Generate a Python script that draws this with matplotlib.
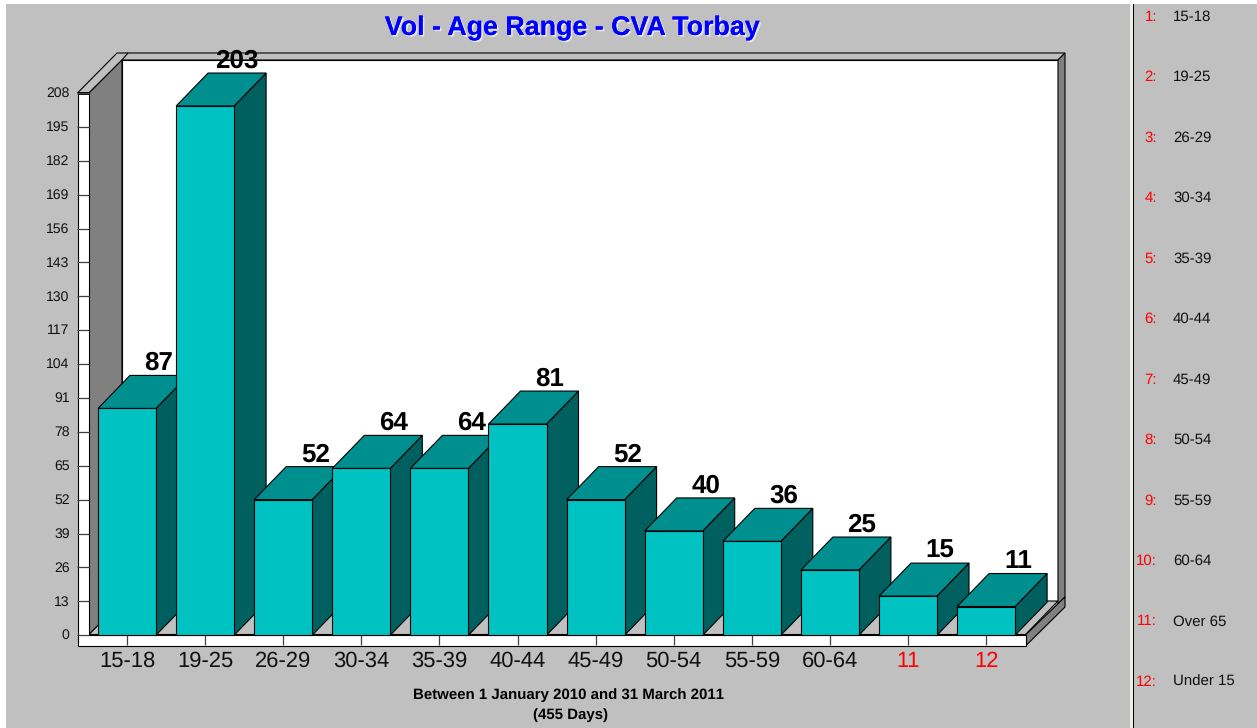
import matplotlib
matplotlib.use("Agg")
import matplotlib.pyplot as plt
from matplotlib.patches import Polygon, Rectangle
from matplotlib.transforms import ScaledTranslation
import matplotlib.patheffects as pe

plt.rcParams['font.family'] = ['Liberation Sans', 'DejaVu Sans']
plt.rcParams['text.hinting'] = 'no_hinting'
plt.rcParams['text.hinting_factor'] = 1

categories = ["15-18", "19-25", "26-29", "30-34", "35-39", "40-44", "45-49",
              "50-54", "55-59", "60-64", "Over 65", "Under 15"]
axis_labels = ["15-18", "19-25", "26-29", "30-34", "35-39", "40-44", "45-49",
               "50-54", "55-59", "60-64", "11", "12"]
values = [87, 203, 52, 64, 64, 81, 52, 40, 36, 25, 15, 11]
y_ticks = list(range(0, 209, 13))

TITLE = "Vol - Age Range - CVA Torbay"
FOOT1 = "Between 1 January 2010 and 31 March 2011"
FOOT2 = "(455 Days)"

W, H = 1257, 728
BG = "#C0C0C0"; WALL = "#808080"
FRONT = "#00C2C2"; TOP = "#008F8F"; SIDE = "#005F5F"
LW = 0.8

fig = plt.figure(figsize=(W / 100, H / 100), dpi=100, facecolor="white")

# pixel-space backdrop
bgax = fig.add_axes([0, 0, 1, 1], zorder=0)
bgax.set_xlim(0, W); bgax.set_ylim(H, 0); bgax.axis("off")

def poly(pts, fc, ec="black", lw=LW, z=2):
    bgax.add_patch(Polygon(pts, closed=True, fc=fc, ec=ec, lw=lw, zorder=z, joinstyle="miter"))

bgax.add_patch(Rectangle((6, 4), W - 6, H - 4, fc=BG, ec="none", zorder=1))
# divider
bgax.add_patch(Rectangle((1129.5, 4), 3, H - 4, fc="#EFEFE0", ec="none", zorder=1))
bgax.add_patch(Rectangle((1132.5, 4), 1.6, H - 4, fc="black", ec="none", zorder=1))

# frame: top bevel, walls, floor
poly([(77.5, 93), (117, 53), (1065, 53), (1058, 60), (122, 60), (89, 93)], BG)
poly([(122, 60), (128, 53)], BG)
poly([(122, 60), (1058, 60), (1058, 601), (122, 601)], "white")
poly([(89, 93), (122, 60), (122, 601), (89, 634.5)], WALL)
poly([(89, 634.5), (122, 601), (1058, 601), (1025.5, 634.5)], BG)
poly([(1058, 60), (1065, 53), (1065, 597), (1058, 604)], WALL)
poly([(1025.5, 635), (1065, 597), (1065, 607), (1025.5, 646)], WALL)
poly([(77.5, 93), (89, 93), (89, 635), (1025.5, 635), (1025.5, 646), (77.5, 646)], "white")
bgax.plot([77.5, 89], [93, 93], color="black", lw=2, zorder=3, solid_capstyle="butt")

# title, footer
bgax.text(573.5, 28, TITLE, ha="center", va="center", color="#0000FF", fontsize=19.3, fontweight="bold",
          path_effects=[pe.withSimplePatchShadow(offset=(1.2, -1.2), shadow_rgbFace="#E8E8EC", alpha=1),
                        pe.Normal()], zorder=5)
bgax.text(569, 695, FOOT1, ha="center", va="center", color="black", fontsize=11, fontweight="bold", zorder=5)
bgax.text(571, 715, FOOT2, ha="center", va="center", color="black", fontsize=11, fontweight="bold", zorder=5)

# legend panel
for i, name in enumerate(categories):
    y = 17 + i * 60.45
    bgax.text(1157, y, f"{i + 1}:", ha="right", va="center", color="#FF0000", fontsize=10.8, zorder=5)
    bgax.text(1173, y, name, ha="left", va="center", color="#111111", fontsize=10.8, zorder=5)

# data axes: value 0..208 between the floor and the top tick; category i centred at 127 + 78.1*i
L, R, B, T = 89, 1025.5, 635.2, 93
ax = fig.add_axes([L / W, 1 - B / H, (R - L) / W, (B - T) / H], zorder=2)
ax.patch.set_alpha(0)
STEP = 78.1
UNIT = (B - T) / 208
ax.set_xlim((L - 127) / STEP, (R - 127) / STEP)
ax.set_ylim(0, 208)
for s in ax.spines.values():
    s.set_visible(False)

DX = 32 / STEP
DY = 33 / UNIT
BW = 58 / STEP
for i, v in enumerate(values):
    x0, x1 = i - BW / 2, i + BW / 2
    z = 3 + i
    ax.add_patch(Polygon([(x1, 0), (x1 + DX, DY), (x1 + DX, v + DY), (x1, v)], closed=True,
                         fc=SIDE, ec="black", lw=LW, zorder=z, clip_on=False))
    ax.add_patch(Polygon([(x0, v), (x0 + DX, v + DY), (x1 + DX, v + DY), (x1, v)], closed=True,
                         fc=TOP, ec="black", lw=LW, zorder=z, clip_on=False))
    ax.bar(i, v, width=BW, color=FRONT, edgecolor="black", linewidth=LW, zorder=z, clip_on=False)

for i, v in enumerate(values):
    ax.annotate(str(v), (i + DX, v + DY), xytext=(0, 0), textcoords="offset points",
                ha="center", va="bottom", fontsize=19, fontweight="bold", color="black",
                zorder=30, annotation_clip=False)

ax.set_yticks(y_ticks)
ax.set_xticks(range(len(axis_labels)))
ax.set_xticklabels(axis_labels)
ax.tick_params(axis="y", direction="out", length=8.3, width=0.9, color="#404040",
               pad=5.7, labelsize=10, labelcolor="#111111")
ax.tick_params(axis="x", direction="out", length=7.5, width=0.9, color="#404040",
               pad=4, labelsize=15.5, labelcolor="#111111")
for lab in ax.get_xticklabels()[-2:]:
    lab.set_color("#FF0000")
shift_up = ScaledTranslation(0, 1 / 100, fig.dpi_scale_trans)
for lab in ax.get_yticklabels():
    lab.set_transform(lab.get_transform() + shift_up)

fig.savefig("out.png", dpi=100, facecolor=fig.get_facecolor())
